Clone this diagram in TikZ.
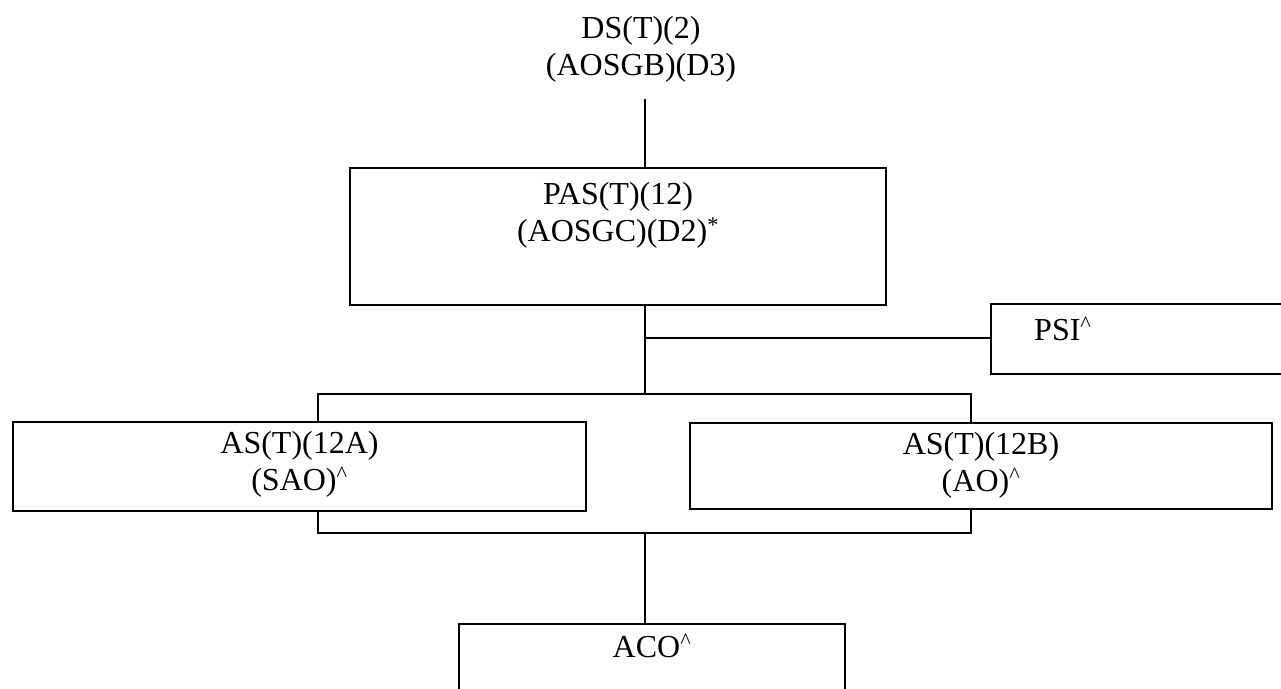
\documentclass[tikz,border=0pt]{standalone}
\usepackage{fontspec}
\setmainfont{Liberation Serif}
\tikzset{
	org chart/.cd,
	box/.style = {
		draw,
		line width = 2.4pt,
		inner sep = 0pt,
		align = center,
		text height = 36pt,
		anchor = north
	},
	two lines/.style = {
		text height = 73pt
	},
	link/.style = {
		line width = 2.4pt
	},
}

\begin{document}
\begin{tikzpicture}[
		x = 1pt, y = -1pt,
		font = \fontsize{32}{37}\selectfont]
		\clip (0, 0) rectangle (1281, 688);
		% top title, no frame
		\node[anchor = base, align = center, inner sep = 0pt] (ds) at (641, 75) {DS(T)(2)\\(AOSGB)(D3)};
		\node[org chart/box, org chart/two lines, minimum width = 536pt, text depth = 64pt] (pas) at (618, 167) {PAS(T)(12)\\(AOSGC)(D2)\textsuperscript{*}};
		\node[org chart/box, anchor = north west, inner xsep = 43pt, text width = 250pt, align = left, text depth = 34pt] (psi) at (990, 303) {PSI\textsuperscript{\textasciicircum}};
		\node[org chart/box, org chart/two lines, text height = 68pt, minimum width = 573pt, text depth = 21pt] (asa) at (299.5, 421) {AS(T)(12A)\\(SAO)\textsuperscript{\textasciicircum}};
		\node[org chart/box, org chart/two lines, text height = 68pt, minimum width = 582pt, text depth = 18pt] (asb) at (981, 422) {AS(T)(12B)\\(AO)\textsuperscript{\textasciicircum}};
		\node[org chart/box, text height = 33pt, minimum width = 386pt, text depth = 80pt] (aco) at (652, 623) {ACO\textsuperscript{\textasciicircum}};
		\begin{scope}[org chart/link]
			\coordinate (stem) at (645, 99);
			\coordinate (fork) at (645, 338);
			\coordinate (split) at (645, 394);
			\coordinate (join) at (645, 533);
			\coordinate (leftdrop) at (318, 394);
			\coordinate (rightdrop) at (971, 394);
			\coordinate (leftrise) at (318, 533);
			\coordinate (rightrise) at (971, 533);
			\draw (stem) -- (stem |- pas.north);
			\draw (stem |- pas.south) -- (split);
			\draw (fork) -- (fork -| psi.west);
			\draw (leftdrop |- asa.north) -- (leftdrop) -- (rightdrop) -- (rightdrop |- asb.north);
			\draw (leftrise |- asa.south) -- (leftrise) -- (rightrise) -- (rightrise |- asb.south);
			\draw (join) -- (join |- aco.north);
		\end{scope}
	\end{tikzpicture}
\end{document}
